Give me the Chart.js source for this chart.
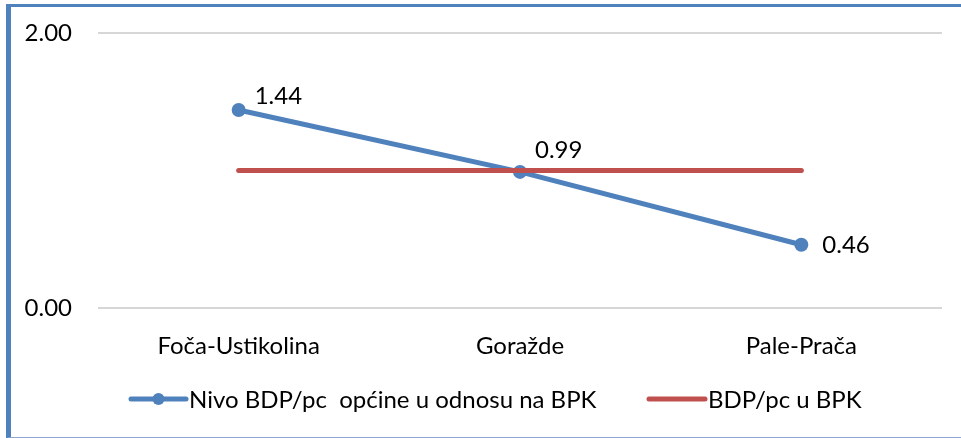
<!DOCTYPE html>
<html>
<head>
<meta charset="utf-8">
<script src="https://cdn.jsdelivr.net/npm/chart.js@4/dist/chart.umd.min.js"></script>
<style>
  html, body { margin: 0; padding: 0; background: #fff; }
  #wrap { position: relative; width: 961px; height: 438px; }
  #frame {
    position: absolute; left: 6px; top: 4px; width: 950px; height: 430px;
    border-top: 3px solid #4F81BD; border-left: 5px solid #4F81BD; border-bottom: 1px solid #8EA9D0;
    pointer-events: none;
  }
</style>
</head>
<body>
<div id="wrap">
  <canvas id="grafico" width="961" height="438"></canvas>
  <div id="frame"></div>
</div>
<script>
// dados do gráfico
const categories = ['Foča-Ustikolina', 'Goražde', 'Pale-Prača'];
const nivoValues = [1.44, 0.99, 0.46];
const bpkValues = [1.00, 1.00, 1.00];
const yTicks = [0, 2];
const seriesNames = ['Nivo BDP/pc  općine u odnosu na BPK', 'BDP/pc u BPK'];

const FONT = { family: 'Lato, "Noto Sans", sans-serif', size: 24 };
const BLUE = '#4F81BD';
const RED = '#C0504D';

// rótulos de valor ao lado dos pontos (deslocamentos em px)
const labelPlugin = {
  id: 'valueLabels',
  afterDatasetsDraw(chart, args, opts) {
    const ctx = chart.ctx;
    const meta = chart.getDatasetMeta(0);
    ctx.save();
    ctx.font = FONT.size + 'px ' + FONT.family;
    ctx.fillStyle = '#000';
    ctx.textAlign = 'left';
    ctx.textBaseline = 'middle';
    meta.data.forEach((pt, i) => {
      const off = opts.offsets[i] || [15, -15];
      ctx.fillText(nivoValues[i].toFixed(2), pt.x + off[0], pt.y + off[1]);
    });
    ctx.restore();
  }
};

// legenda desenhada à mão (linha com marcador)
const legendPlugin = {
  id: 'lineLegend',
  afterDraw(chart, args, opts) {
    const ctx = chart.ctx;
    ctx.save();
    ctx.font = FONT.size + 'px ' + FONT.family;
    ctx.textBaseline = 'middle';
    ctx.textAlign = 'left';
    chart.data.datasets.forEach((ds, i) => {
      const it = opts.items[i];
      const y = opts.y;
      ctx.strokeStyle = ds.borderColor;
      ctx.lineWidth = 5;
      ctx.lineCap = 'round';
      ctx.beginPath();
      ctx.moveTo(it.x, y);
      ctx.lineTo(it.x + it.len, y);
      ctx.stroke();
      if (ds.pointRadius > 0) {
        ctx.fillStyle = ds.borderColor;
        ctx.beginPath();
        ctx.arc(it.x + it.len / 2, y, 6, 0, Math.PI * 2);
        ctx.fill();
      }
      ctx.fillStyle = '#000';
      ctx.fillText(ds.label, it.x + it.len + 3, y + 1);
    });
    ctx.restore();
  }
};

const config = {
  type: 'line',
  data: {
    labels: categories,
    datasets: [{
      label: seriesNames[0],
      data: nivoValues,
      borderColor: BLUE,
      backgroundColor: BLUE,
      borderWidth: 5,
      pointRadius: 7,
      pointBackgroundColor: BLUE,
      pointBorderWidth: 0,
      order: 1
    }, {
      label: seriesNames[1],
      data: bpkValues,
      borderColor: RED,
      backgroundColor: RED,
      borderWidth: 5,
      borderCapStyle: 'round',
      pointRadius: 0,
      order: 0
    }]
  },
  options: {
    responsive: false,
    animation: false,
    devicePixelRatio: 1,
    layout: { padding: { left: 0, top: 33, right: 19, bottom: 70 } },
    plugins: {
      legend: { display: false },
      tooltip: { enabled: false },
      valueLabels: { offsets: [[16, -14], [15, -22], [21, 1]] },
      lineLegend: { y: 399, items: [{ x: 131, len: 55 }, { x: 649, len: 56 }] }
    },
    scales: {
      x: {
        offset: true,
        grid: { display: false },
        border: { display: false },
        ticks: { font: FONT, color: '#000', padding: 16, maxRotation: 0 },
        afterFit(scale) { scale.height = 60; }
      },
      y: {
        min: 0,
        max: 2,
        afterBuildTicks(scale) { scale.ticks = yTicks.map(v => ({ value: v })); },
        grid: { color: '#D6D6D6', lineWidth: 2, drawTicks: false },
        border: { display: false },
        ticks: { font: FONT, color: '#000', padding: 26, callback: v => v.toFixed(2) },
        afterFit(scale) { scale.width = 98; scale.paddingTop = 0; scale.paddingBottom = 0; }
      }
    }
  },
  plugins: [labelPlugin, legendPlugin]
};

const ctx = document.getElementById('grafico').getContext('2d');
new Chart(ctx, config);
</script>
</body>
</html>
